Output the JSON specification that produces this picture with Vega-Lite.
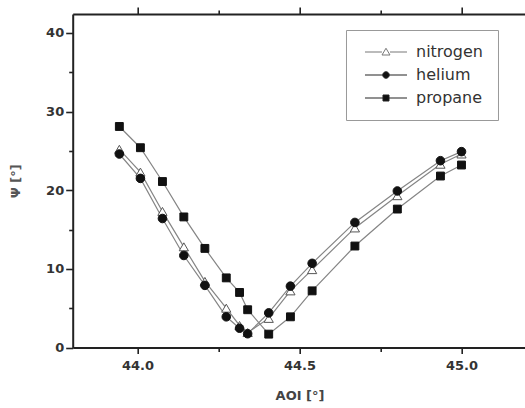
{
  "$schema": "https://vega.github.io/schema/vega-lite/v6.json",
  "width": 453.6,
  "height": 333.5,
  "autosize": {"type": "none"},
  "padding": {"left": 72.7, "top": 14, "right": 0, "bottom": 60.5},
  "background": "white",
  "config": {
    "view": {"stroke": null},
    "font": "DejaVu Sans",
    "legend": {
      "orient": "none",
      "legendX": 273.3,
      "legendY": 16,
      "padding": 14,
      "strokeColor": "#999999",
      "fillColor": "white",
      "labelFont": "DejaVu Sans",
      "labelFontSize": 16,
      "labelColor": "#333333",
      "rowPadding": 7,
      "symbolSize": 100,
      "symbolOffset": 18,
      "labelOffset": 22,
      "symbolStrokeWidth": 1,
      "symbolOpacity": 1,
      "title": null
    }
  },
  "data": {
    "values": [
      {"series": "nitrogen", "aoi": 43.944, "psi": 25.2},
      {"series": "nitrogen", "aoi": 44.009, "psi": 22.3},
      {"series": "nitrogen", "aoi": 44.077, "psi": 17.3},
      {"series": "nitrogen", "aoi": 44.143, "psi": 12.8},
      {"series": "nitrogen", "aoi": 44.208, "psi": 8.4},
      {"series": "nitrogen", "aoi": 44.274, "psi": 5.0},
      {"series": "nitrogen", "aoi": 44.315, "psi": 2.8},
      {"series": "nitrogen", "aoi": 44.34, "psi": 1.9},
      {"series": "nitrogen", "aoi": 44.405, "psi": 3.7},
      {"series": "nitrogen", "aoi": 44.472, "psi": 7.2},
      {"series": "nitrogen", "aoi": 44.539, "psi": 9.9},
      {"series": "nitrogen", "aoi": 44.671, "psi": 15.2},
      {"series": "nitrogen", "aoi": 44.802, "psi": 19.3},
      {"series": "nitrogen", "aoi": 44.935, "psi": 23.3},
      {"series": "nitrogen", "aoi": 45.0, "psi": 24.6},
      {"series": "helium", "aoi": 43.944, "psi": 24.6},
      {"series": "helium", "aoi": 44.009, "psi": 21.5},
      {"series": "helium", "aoi": 44.077, "psi": 16.4},
      {"series": "helium", "aoi": 44.143, "psi": 11.7},
      {"series": "helium", "aoi": 44.208, "psi": 7.9},
      {"series": "helium", "aoi": 44.274, "psi": 3.9},
      {"series": "helium", "aoi": 44.315, "psi": 2.45},
      {"series": "helium", "aoi": 44.34, "psi": 1.75},
      {"series": "helium", "aoi": 44.405, "psi": 4.4},
      {"series": "helium", "aoi": 44.472, "psi": 7.8},
      {"series": "helium", "aoi": 44.539, "psi": 10.7},
      {"series": "helium", "aoi": 44.671, "psi": 15.9},
      {"series": "helium", "aoi": 44.802, "psi": 19.9},
      {"series": "helium", "aoi": 44.935, "psi": 23.75},
      {"series": "helium", "aoi": 45.0, "psi": 24.9},
      {"series": "propane", "aoi": 43.944, "psi": 28.1},
      {"series": "propane", "aoi": 44.009, "psi": 25.4},
      {"series": "propane", "aoi": 44.077, "psi": 21.1},
      {"series": "propane", "aoi": 44.143, "psi": 16.6},
      {"series": "propane", "aoi": 44.208, "psi": 12.6},
      {"series": "propane", "aoi": 44.274, "psi": 8.85},
      {"series": "propane", "aoi": 44.315, "psi": 7.0},
      {"series": "propane", "aoi": 44.34, "psi": 4.8},
      {"series": "propane", "aoi": 44.405, "psi": 1.7},
      {"series": "propane", "aoi": 44.472, "psi": 3.9},
      {"series": "propane", "aoi": 44.539, "psi": 7.2},
      {"series": "propane", "aoi": 44.671, "psi": 12.9},
      {"series": "propane", "aoi": 44.802, "psi": 17.6},
      {"series": "propane", "aoi": 44.935, "psi": 21.8},
      {"series": "propane", "aoi": 45.0, "psi": 23.2}
    ]
  },
  "layer": [
    {
      "mark": {"type": "line", "color": "#858585", "strokeWidth": 1.2},
      "encoding": {
        "x": {
          "field": "aoi", "type": "quantitative",
          "scale": {"domain": [43.8, 45.2], "nice": false, "zero": false},
          "axis": {
            "orient": "bottom",
            "values": [44, 44.25, 44.5, 44.75, 45],
            "labelExpr": "abs(datum.value*2-round(datum.value*2))<0.001 ? format(datum.value,'.1f') : ''",
            "tickSize": {"condition": {"test": "abs(datum.value*2-round(datum.value*2))<0.001", "value": 6}, "value": 4},
            "domainColor": "#222222", "domainWidth": 2,
            "tickColor": "#222222", "tickWidth": 1.6,
            "labelFont": "DejaVu Sans", "labelFontWeight": "bold", "labelFontSize": 13, "labelColor": "#333333",
            "labelPadding": 6,
            "title": "AOI [°]", "titleFont": "DejaVu Sans", "titleFontSize": 13, "titleFontWeight": "bold", "titleColor": "#444444",
            "titlePadding": 17,
            "grid": false
          }
        },
        "y": {
          "field": "psi", "type": "quantitative",
          "scale": {"domain": [0, 42.4], "nice": false},
          "axis": {
            "orient": "left",
            "values": [0, 5, 10, 15, 20, 25, 30, 35, 40],
            "labelExpr": "datum.value % 10 === 0 ? datum.label : ''",
            "tickSize": {"condition": {"test": "datum.value % 10 === 0", "value": 7}, "value": 4},
            "domainColor": "#222222", "domainWidth": 2,
            "tickColor": "#222222", "tickWidth": 1.6,
            "labelFont": "DejaVu Sans", "labelFontWeight": "bold", "labelFontSize": 13, "labelColor": "#333333",
            "labelPadding": 2,
            "title": "Ψ [°]", "titleFont": "DejaVu Sans", "titleFontSize": 13, "titleFontWeight": "bold", "titleColor": "#555555",
            "titlePadding": 23,
            "grid": false
          }
        },
        "detail": {"field": "series", "type": "nominal"}
      }
    },
    {
      "mark": {"type": "point", "filled": true, "opacity": 1, "strokeWidth": 1},
      "encoding": {
        "x": {
          "field": "aoi", "type": "quantitative",
          "scale": {"domain": [43.8, 45.2], "nice": false, "zero": false},
          "axis": {
            "orient": "top",
            "values": [44, 44.25, 44.5, 44.75, 45],
            "labels": false,
            "tickSize": {"condition": {"test": "abs(datum.value*2-round(datum.value*2))<0.001", "value": 7}, "value": 4},
            "domainColor": "#222222", "domainWidth": 2,
            "tickColor": "#222222", "tickWidth": 1.6,
            "title": null,
            "grid": false
          }
        },
        "y": {
          "field": "psi", "type": "quantitative",
          "scale": {"domain": [0, 42.4], "nice": false},
          "axis": null
        },
        "shape": {
          "field": "series", "type": "nominal",
          "scale": {"domain": ["nitrogen", "helium", "propane"], "range": ["triangle-up", "circle", "square"]},
          "legend": null
        },
        "fill": {
          "field": "series", "type": "nominal",
          "scale": {"domain": ["nitrogen", "helium", "propane"], "range": ["#ffffff", "#111111", "#111111"]},
          "legend": null
        },
        "stroke": {
          "field": "series", "type": "nominal",
          "scale": {"domain": ["nitrogen", "helium", "propane"], "range": ["#555555", "#111111", "#111111"]},
          "legend": null
        },
        "size": {
          "field": "series", "type": "nominal",
          "scale": {"domain": ["nitrogen", "helium", "propane"], "range": [85, 62, 60]},
          "legend": null
        }
      }
    },
    {
      "transform": [{"filter": "false"}],
      "mark": {"type": "point", "filled": true, "strokeWidth": 1},
      "encoding": {
        "x": {"field": "aoi", "type": "quantitative", "scale": {"domain": [43.8, 45.2], "nice": false, "zero": false}, "axis": null},
        "y": {"field": "psi", "type": "quantitative", "scale": {"domain": [0, 42.4], "nice": false}, "axis": null},
        "shape": {
          "field": "series", "type": "nominal",
          "scale": {"domain": ["nitrogen", "helium", "propane"], "range": [
            "M-4.2,0H-0.8M0.8,0H4.2M0,-0.75L0.8,0.6L-0.8,0.6Z",
            "M-4.2,0H-0.65M0.65,0H4.2M0.65,0A0.65,0.65,0,1,1,-0.65,0A0.65,0.65,0,1,1,0.65,0Z",
            "M-4.2,0H-0.6M0.6,0H4.2M-0.6,-0.6H0.6V0.6H-0.6Z"
          ]}
        },
        "fill": {
          "field": "series", "type": "nominal",
          "scale": {"domain": ["nitrogen", "helium", "propane"], "range": ["#ffffff", "#111111", "#111111"]}
        },
        "stroke": {
          "field": "series", "type": "nominal",
          "scale": {"domain": ["nitrogen", "helium", "propane"], "range": ["#777777", "#222222", "#222222"]}
        }
      }
    }
  ],
  "resolve": {
    "axis": {"x": "independent", "y": "independent"},
    "scale": {"shape": "independent", "fill": "independent", "stroke": "independent", "size": "independent"}
  }
}
